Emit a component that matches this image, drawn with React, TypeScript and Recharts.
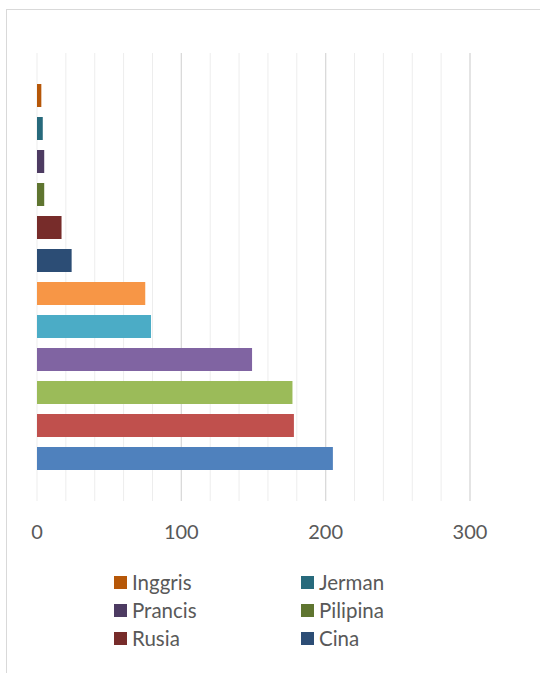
import React from 'react';
import { BarChart, Bar, XAxis, YAxis, CartesianGrid } from 'recharts';

// Series in Excel order: series 1 is drawn at the bottom
const SERIES = [
  'Malaysia',
  'Singapura',
  'Australia',
  'Jepang',
  'Korea Selatan',
  'Amerika Serikat',
  'Cina',
  'Rusia',
  'Pilipina',
  'Prancis',
  'Jerman',
  'Inggris',
];
const VALUES = [205, 178, 177, 149, 79, 75, 24, 17, 5, 5, 4, 3];
const COLORS = [
  '#4F81BD',
  '#C0504D',
  '#9BBB59',
  '#8064A2',
  '#4BACC6',
  '#F79646',
  '#2C4D75',
  '#772C2A',
  '#5F7530',
  '#4D3B62',
  '#276A7C',
  '#B65708',
];
const X_DOMAIN = [0, 300];
const X_TICKS = [0, 20, 40, 60, 80, 100, 120, 140, 160, 180, 200, 220, 240, 260, 280, 300];
const MAJOR_TICKS = [100, 200, 300];
// the legend only has room for the last six series
const LEGEND_ITEMS = ['Inggris', 'Jerman', 'Prancis', 'Pilipina', 'Rusia', 'Cina'];

const TEXT = '#595959';
const LINE = '#d9d9d9';
const FONT = 'Lato, "Open Sans", sans-serif';

const row: Record<string, string | number> = { cat: 'Jumlah' };
SERIES.forEach((s, i) => {
  row[s] = VALUES[i];
});
const data = [row];

// major gridlines at 100, 200, 300, placed with the x axis scale
const majorLines = ({ xAxis, offset }: any) => {
  if (xAxis && typeof xAxis.scale === 'function') {
    return MAJOR_TICKS.map((t) => xAxis.scale(t));
  }
  const [lo, hi] = X_DOMAIN;
  return MAJOR_TICKS.map((t) => offset.left + ((t - lo) / (hi - lo)) * offset.width);
};

export default function App() {
  // top bar first, so walk the series backwards
  const order = SERIES.map((_, i) => i).reverse();

  return (
    <div
      style={{
        position: 'absolute',
        left: 0,
        top: 0,
        width: 540,
        height: 673,
        overflow: 'hidden',
        background: '#fff',
        fontFamily: FONT,
      }}
    >
      <div
        style={{
          position: 'absolute',
          left: 6,
          top: 9,
          width: 600,
          height: 700,
          borderLeft: `1.5px solid ${LINE}`,
          borderTop: `1.5px solid ${LINE}`,
        }}
      />
      <div style={{ position: 'absolute', left: 0, top: 0 }}>
        <BarChart
          width={540}
          height={673}
          data={data}
          layout="vertical"
          margin={{ top: 53, right: 70, left: 37, bottom: 132 }}
          barSize={23}
          barGap={10}
        >
          <CartesianGrid horizontal={false} stroke="#ededed" strokeWidth={1} />
          <CartesianGrid
            horizontal={false}
            stroke={LINE}
            strokeWidth={1.2}
            verticalCoordinatesGenerator={majorLines}
          />
          <XAxis
            type="number"
            domain={X_DOMAIN}
            ticks={X_TICKS}
            interval={0}
            axisLine={false}
            tickLine={false}
            tickMargin={18}
            height={40}
            tick={{ fill: TEXT, fontSize: 20, fontFamily: FONT }}
            tickFormatter={(v: number) => (v % 100 === 0 ? String(v) : '')}
          />
          <YAxis yAxisId="cat" type="category" dataKey="cat" hide />
          <YAxis
            yAxisId="frame"
            type="number"
            domain={[0, 1]}
            ticks={[0, 1]}
            width={0}
            axisLine={{ stroke: LINE, strokeWidth: 1.5 }}
            tickLine={{ stroke: LINE, strokeWidth: 1.5 }}
            tickSize={9}
            tickFormatter={() => ''}
          />
          {order.map((i) => (
            <Bar
              key={SERIES[i]}
              yAxisId="cat"
              dataKey={SERIES[i]}
              fill={COLORS[i]}
              isAnimationActive={false}
            />
          ))}
        </BarChart>
      </div>
      <div
        style={{
          position: 'absolute',
          left: 114,
          top: 568,
          display: 'grid',
          gridTemplateColumns: '187px 187px',
          gridAutoRows: 28,
        }}
      >
        {LEGEND_ITEMS.map((name) => (
          <div key={name} style={{ display: 'flex', alignItems: 'center' }}>
            <span
              style={{
                display: 'inline-block',
                width: 13,
                height: 13,
                marginRight: 5,
                background: COLORS[SERIES.indexOf(name)],
              }}
            />
            <span style={{ fontSize: 20.5, color: TEXT, lineHeight: '28px' }}>{name}</span>
          </div>
        ))}
      </div>
    </div>
  );
}
